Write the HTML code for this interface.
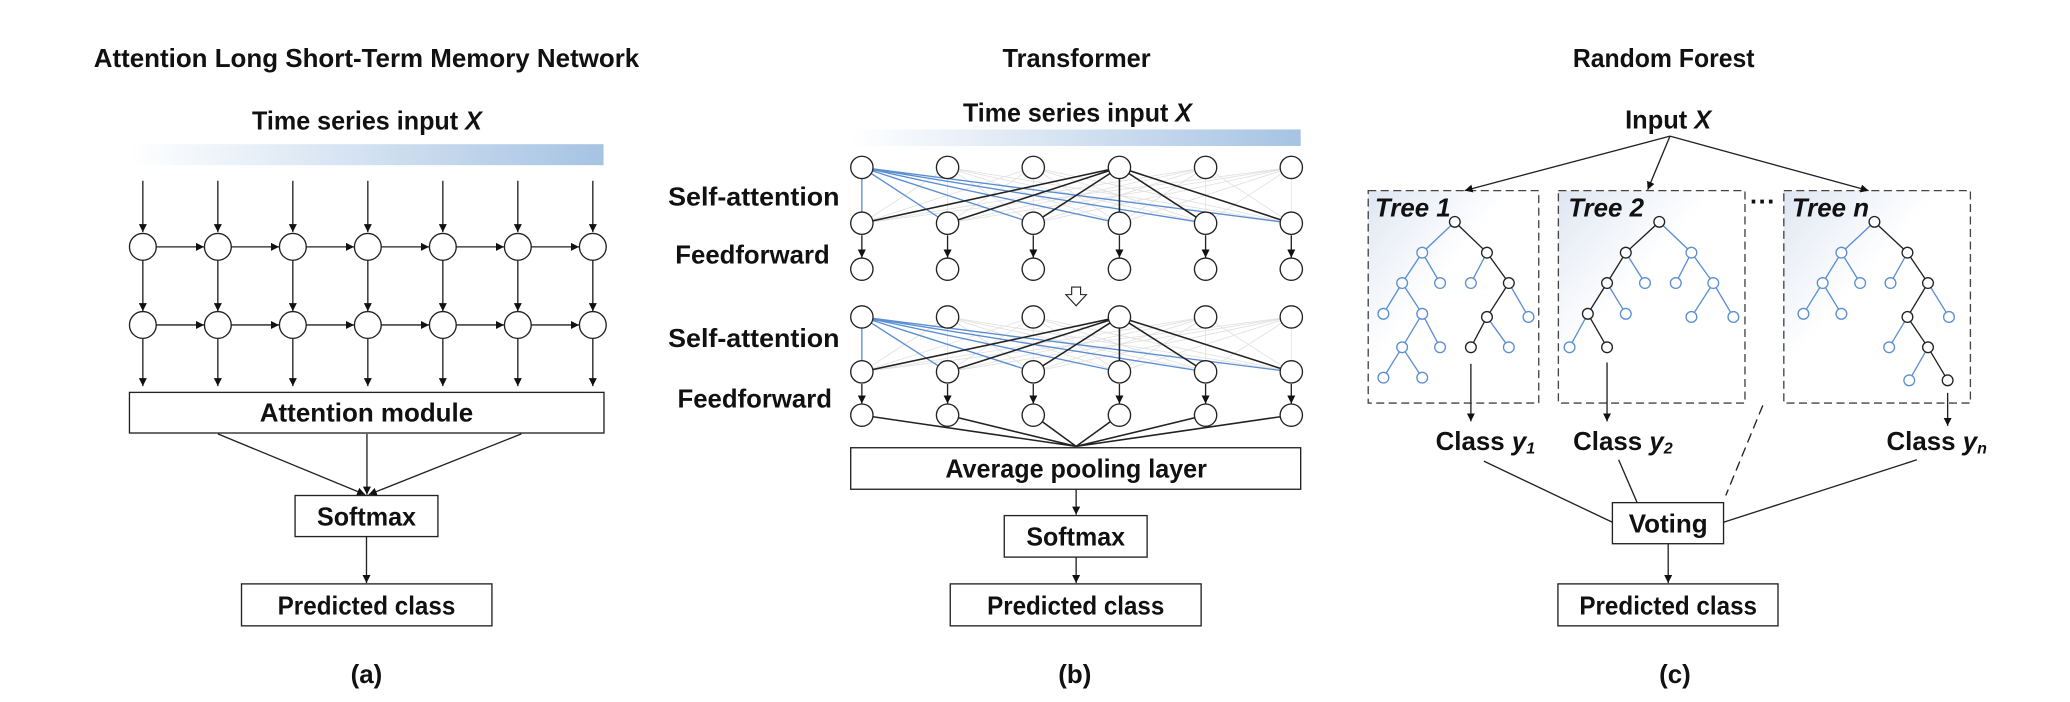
<!DOCTYPE html>
<html><head><meta charset="utf-8"><style>
html,body{margin:0;padding:0;background:#fff;}
svg{display:block;}
text{font-family:"Liberation Sans",sans-serif;font-weight:bold;fill:#111;}
</style></head><body>
<svg width="2070" height="702" viewBox="0 0 2070 702" xmlns="http://www.w3.org/2000/svg">
<defs>
<marker id="ah" viewBox="0 0 10 10" refX="10" refY="5" markerWidth="6" markerHeight="6" orient="auto" markerUnits="strokeWidth"><path d="M0,0 L10,5 L0,10 z" fill="#111"/></marker>
<linearGradient id="bar" x1="0" x2="1" y1="0" y2="0"><stop offset="0" stop-color="#fff"/><stop offset="1" stop-color="#a6c3e3"/></linearGradient>
<linearGradient id="tb" x1="0" y1="0" x2="0.7" y2="0.7"><stop offset="0" stop-color="#dfe6f2"/><stop offset="0.6" stop-color="#fff"/></linearGradient>
</defs>

<!-- Panel A -->
<g transform="scale(0.4464)" stroke="#222" stroke-width="3" fill="none">
<text x="821" y="150" font-size="58" text-anchor="middle" textLength="1222" lengthAdjust="spacingAndGlyphs" stroke="none">Attention Long Short-Term Memory Network</text>
<text x="822" y="290" font-size="58" text-anchor="middle" textLength="515" lengthAdjust="spacingAndGlyphs" stroke="none">Time series input <tspan font-style="italic">X</tspan></text>
<rect x="290" y="323" width="1062" height="47" fill="url(#bar)" stroke="none"/>
<g marker-end="url(#ah)">
<line x1="320" y1="405" x2="320" y2="520"/><line x1="488" y1="405" x2="488" y2="520"/><line x1="656" y1="405" x2="656" y2="520"/><line x1="824" y1="405" x2="824" y2="520"/><line x1="992" y1="405" x2="992" y2="520"/><line x1="1160" y1="405" x2="1160" y2="520"/><line x1="1328" y1="405" x2="1328" y2="520"/>
<line x1="320" y1="583" x2="320" y2="697"/><line x1="488" y1="583" x2="488" y2="697"/><line x1="656" y1="583" x2="656" y2="697"/><line x1="824" y1="583" x2="824" y2="697"/><line x1="992" y1="583" x2="992" y2="697"/><line x1="1160" y1="583" x2="1160" y2="697"/><line x1="1328" y1="583" x2="1328" y2="697"/>
<line x1="320" y1="758" x2="320" y2="865"/><line x1="488" y1="758" x2="488" y2="865"/><line x1="656" y1="758" x2="656" y2="865"/><line x1="824" y1="758" x2="824" y2="865"/><line x1="992" y1="758" x2="992" y2="865"/><line x1="1160" y1="758" x2="1160" y2="865"/><line x1="1328" y1="758" x2="1328" y2="865"/>
<line x1="350" y1="553" x2="457" y2="553"/><line x1="518" y1="553" x2="625" y2="553"/><line x1="686" y1="553" x2="793" y2="553"/><line x1="854" y1="553" x2="961" y2="553"/><line x1="1022" y1="553" x2="1129" y2="553"/><line x1="1190" y1="553" x2="1297" y2="553"/>
<line x1="350" y1="728" x2="457" y2="728"/><line x1="518" y1="728" x2="625" y2="728"/><line x1="686" y1="728" x2="793" y2="728"/><line x1="854" y1="728" x2="961" y2="728"/><line x1="1022" y1="728" x2="1129" y2="728"/><line x1="1190" y1="728" x2="1297" y2="728"/>
<line x1="488" y1="972" x2="818" y2="1108"/><line x1="822" y1="972" x2="822" y2="1108"/><line x1="1168" y1="972" x2="826" y2="1108"/>
<line x1="821" y1="1202" x2="821" y2="1306"/>
</g>
<g fill="#fff">
<circle cx="320" cy="553" r="30"/><circle cx="488" cy="553" r="30"/><circle cx="656" cy="553" r="30"/><circle cx="824" cy="553" r="30"/><circle cx="992" cy="553" r="30"/><circle cx="1160" cy="553" r="30"/><circle cx="1328" cy="553" r="30"/>
<circle cx="320" cy="728" r="30"/><circle cx="488" cy="728" r="30"/><circle cx="656" cy="728" r="30"/><circle cx="824" cy="728" r="30"/><circle cx="992" cy="728" r="30"/><circle cx="1160" cy="728" r="30"/><circle cx="1328" cy="728" r="30"/>
<rect x="290" y="879" width="1063" height="91"/>
<rect x="661" y="1110" width="320" height="92"/>
<rect x="541" y="1308" width="561" height="94"/>
</g>
<g stroke="none">
<text x="821" y="944" font-size="58" text-anchor="middle" textLength="478" lengthAdjust="spacingAndGlyphs">Attention module</text>
<text x="821" y="1177" font-size="58" text-anchor="middle" textLength="222" lengthAdjust="spacingAndGlyphs">Softmax</text>
<text x="821" y="1377" font-size="58" text-anchor="middle" textLength="398" lengthAdjust="spacingAndGlyphs">Predicted class</text>
<text x="821" y="1530" font-size="58" text-anchor="middle">(a)</text>
</g>
</g>

<!-- Panel B -->
<g transform="translate(690,0) scale(0.4464)" stroke="#222" stroke-width="3" fill="none">
<text x="866" y="150" font-size="58" text-anchor="middle" textLength="332" lengthAdjust="spacingAndGlyphs" stroke="none">Transformer</text>
<text x="868" y="272" font-size="58" text-anchor="middle" textLength="513" lengthAdjust="spacingAndGlyphs" stroke="none">Time series input <tspan font-style="italic">X</tspan></text>
<rect x="362" y="290" width="1006" height="37" fill="url(#bar)" stroke="none"/>
<g stroke="none" text-anchor="end" font-size="58">
<text x="335" y="460" textLength="384" lengthAdjust="spacingAndGlyphs">Self-attention</text>
<text x="313" y="590" textLength="346" lengthAdjust="spacingAndGlyphs">Feedforward</text>
<text x="335" y="777" textLength="384" lengthAdjust="spacingAndGlyphs">Self-attention</text>
<text x="318" y="913" textLength="346" lengthAdjust="spacingAndGlyphs">Feedforward</text>
</g>
<g stroke="#e2e2e2" stroke-width="2">
<path d="M577,375L385,500M577,375L769,500M577,375L962,500M577,375L1155,500M577,375L1347,500M577,375V500
M769,375L385,500M769,375L577,500M769,375L962,500M769,375L1155,500M769,375L1347,500M769,375V500
M1155,375L385,500M1155,375L577,500M1155,375L769,500M1155,375L962,500M1155,375L1347,500M1155,375V500
M1347,375L385,500M1347,375L577,500M1347,375L769,500M1347,375L962,500M1347,375L1155,500M1347,375V500"/>
<path d="M577,710L385,833M577,710L769,833M577,710L962,833M577,710L1155,833M577,710L1347,833M577,710V833
M769,710L385,833M769,710L577,833M769,710L962,833M769,710L1155,833M769,710L1347,833M769,710V833
M1155,710L385,833M1155,710L577,833M1155,710L769,833M1155,710L962,833M1155,710L1347,833M1155,710V833
M1347,710L385,833M1347,710L577,833M1347,710L769,833M1347,710L962,833M1347,710L1155,833M1347,710V833"/>
</g>
<g stroke="#5b8fd2" stroke-width="3">
<path d="M385,375V500M385,375L577,500M385,375L769,500M385,375L962,500M385,375L1155,500M385,375L1347,500"/>
<path d="M385,710V833M385,710L577,833M385,710L769,833M385,710L962,833M385,710L1155,833M385,710L1347,833"/>
</g>
<g stroke="#222" stroke-width="3.5">
<path d="M962,375L385,500M962,375L577,500M962,375L769,500M962,375V500M962,375L1155,500M962,375L1347,500"/>
<path d="M962,710L385,833M962,710L577,833M962,710L769,833M962,710V833M962,710L1155,833M962,710L1347,833"/>
<path d="M385,930L865,1000M577,930L865,1000M769,930L865,1000M962,930L865,1000M1155,930L865,1000M1347,930L865,1000"/>
</g>
<g marker-end="url(#ah)">
<line x1="385" y1="527" x2="385" y2="577"/><line x1="577" y1="527" x2="577" y2="577"/><line x1="769" y1="527" x2="769" y2="577"/><line x1="962" y1="527" x2="962" y2="577"/><line x1="1155" y1="527" x2="1155" y2="577"/><line x1="1347" y1="527" x2="1347" y2="577"/>
<line x1="385" y1="860" x2="385" y2="904"/><line x1="577" y1="860" x2="577" y2="904"/><line x1="769" y1="860" x2="769" y2="904"/><line x1="962" y1="860" x2="962" y2="904"/><line x1="1155" y1="860" x2="1155" y2="904"/><line x1="1347" y1="860" x2="1347" y2="904"/>
<line x1="865" y1="1096" x2="865" y2="1153"/><line x1="865" y1="1248" x2="865" y2="1306"/>
</g>
<path d="M855,643H875V660H888L865,685L842,660H855Z" fill="#fff" stroke-width="2.5"/>
<g fill="#fff">
<circle cx="385" cy="375" r="25"/><circle cx="577" cy="375" r="25"/><circle cx="769" cy="375" r="25"/><circle cx="962" cy="375" r="25"/><circle cx="1155" cy="375" r="25"/><circle cx="1347" cy="375" r="25"/>
<circle cx="385" cy="500" r="25"/><circle cx="577" cy="500" r="25"/><circle cx="769" cy="500" r="25"/><circle cx="962" cy="500" r="25"/><circle cx="1155" cy="500" r="25"/><circle cx="1347" cy="500" r="25"/>
<circle cx="385" cy="603" r="25"/><circle cx="577" cy="603" r="25"/><circle cx="769" cy="603" r="25"/><circle cx="962" cy="603" r="25"/><circle cx="1155" cy="603" r="25"/><circle cx="1347" cy="603" r="25"/>
<circle cx="385" cy="710" r="25"/><circle cx="577" cy="710" r="25"/><circle cx="769" cy="710" r="25"/><circle cx="962" cy="710" r="25"/><circle cx="1155" cy="710" r="25"/><circle cx="1347" cy="710" r="25"/>
<circle cx="385" cy="833" r="25"/><circle cx="577" cy="833" r="25"/><circle cx="769" cy="833" r="25"/><circle cx="962" cy="833" r="25"/><circle cx="1155" cy="833" r="25"/><circle cx="1347" cy="833" r="25"/>
<circle cx="385" cy="930" r="25"/><circle cx="577" cy="930" r="25"/><circle cx="769" cy="930" r="25"/><circle cx="962" cy="930" r="25"/><circle cx="1155" cy="930" r="25"/><circle cx="1347" cy="930" r="25"/>
<rect x="360" y="1003" width="1008" height="93"/>
<rect x="704" y="1155" width="320" height="93"/>
<rect x="583" y="1308" width="562" height="94"/>
</g>
<g stroke="none" font-size="58" text-anchor="middle">
<text x="865" y="1070" textLength="586" lengthAdjust="spacingAndGlyphs">Average pooling layer</text>
<text x="864" y="1222" textLength="221" lengthAdjust="spacingAndGlyphs">Softmax</text>
<text x="864" y="1377" textLength="397" lengthAdjust="spacingAndGlyphs">Predicted class</text>
<text x="862" y="1530">(b)</text>
</g>
</g>

<!-- Panel C -->
<g transform="translate(1370,0) scale(0.4464)" stroke="#222" stroke-width="3" fill="none">
<text x="658" y="150" font-size="58" text-anchor="middle" textLength="407" lengthAdjust="spacingAndGlyphs" stroke="none">Random Forest</text>
<text x="668" y="288" font-size="58" text-anchor="middle" textLength="193" lengthAdjust="spacingAndGlyphs" stroke="none">Input <tspan font-style="italic">X</tspan></text>
<g fill="url(#tb)" stroke="#444" stroke-dasharray="18,10">
<rect x="-4" y="427" width="382" height="476"/>
<rect x="422" y="427" width="418" height="476"/>
<rect x="927" y="427" width="418" height="476"/>
</g>
<g marker-end="url(#ah)">
<line x1="672" y1="305" x2="212" y2="427"/><line x1="672" y1="305" x2="622" y2="425"/><line x1="672" y1="305" x2="1117" y2="427"/>
</g>
<text x="880" y="470" font-size="58" text-anchor="middle" stroke="none">···</text>
<g stroke="none" font-size="58" font-style="italic">
<text x="11" y="485">Tree 1</text>
<text x="444" y="485">Tree 2</text>
<text x="945" y="485">Tree n</text>
</g>
<g stroke="#5b8fd2" stroke-width="3">
<path d="M190,497L117,566M117,566L72,634M117,566L157,634M262,566L226,634M311,634L355,710M72,634L30,703M72,634L117,703M117,703L72,778M117,703L157,778M262,710L311,778M72,778L30,846M72,778L117,846"/>
<path d="M648,497L720,566M573,566L616,634M720,566L685,634M720,566L769,634M531,634L573,703M769,634L720,710M769,634L814,710M488,703L447,778"/>
<path d="M1130,497L1056,566M1056,566L1014,634M1056,566L1098,634M1204,566L1166,634M1250,634L1297,710M1014,634L971,703M1014,634L1056,703M1204,710L1163,778M1250,778L1208,852"/>
</g>
<g stroke="#222" stroke-width="3">
<path d="M190,497L262,566L311,634L262,710L226,778"/>
<path d="M648,497L573,566L531,634L488,703L531,778"/>
<path d="M1130,497L1204,566L1250,634L1204,710L1250,778L1294,852"/>
</g>
<g fill="#fff" stroke="#5b8fd2" stroke-width="3">
<circle cx="117" cy="566" r="12"/><circle cx="72" cy="634" r="12"/><circle cx="157" cy="634" r="12"/><circle cx="226" cy="634" r="12"/><circle cx="30" cy="703" r="12"/><circle cx="117" cy="703" r="12"/><circle cx="355" cy="710" r="12"/><circle cx="72" cy="778" r="12"/><circle cx="157" cy="778" r="12"/><circle cx="311" cy="778" r="12"/><circle cx="30" cy="846" r="12"/><circle cx="117" cy="846" r="12"/>
<circle cx="720" cy="566" r="12"/><circle cx="616" cy="634" r="12"/><circle cx="685" cy="634" r="12"/><circle cx="769" cy="634" r="12"/><circle cx="573" cy="703" r="12"/><circle cx="720" cy="710" r="12"/><circle cx="814" cy="710" r="12"/><circle cx="447" cy="778" r="12"/>
<circle cx="1056" cy="566" r="12"/><circle cx="1014" cy="634" r="12"/><circle cx="1098" cy="634" r="12"/><circle cx="1166" cy="634" r="12"/><circle cx="971" cy="703" r="12"/><circle cx="1056" cy="703" r="12"/><circle cx="1297" cy="710" r="12"/><circle cx="1163" cy="778" r="12"/><circle cx="1208" cy="852" r="12"/>
</g>
<g fill="#fff" stroke="#222" stroke-width="3">
<circle cx="190" cy="497" r="12"/><circle cx="262" cy="566" r="12"/><circle cx="311" cy="634" r="12"/><circle cx="262" cy="710" r="12"/><circle cx="226" cy="778" r="12"/>
<circle cx="648" cy="497" r="12"/><circle cx="573" cy="566" r="12"/><circle cx="531" cy="634" r="12"/><circle cx="488" cy="703" r="12"/><circle cx="531" cy="778" r="12"/>
<circle cx="1130" cy="497" r="12"/><circle cx="1204" cy="566" r="12"/><circle cx="1250" cy="634" r="12"/><circle cx="1204" cy="710" r="12"/><circle cx="1250" cy="778" r="12"/><circle cx="1294" cy="852" r="12"/>
</g>
<g marker-end="url(#ah)">
<line x1="226" y1="815" x2="226" y2="944"/><line x1="531" y1="812" x2="531" y2="944"/><line x1="1294" y1="880" x2="1294" y2="954"/>
<line x1="668" y1="1218" x2="668" y2="1306"/>
</g>
<path d="M255,1033L543,1170M557,1030L598,1125M1225,1030L792,1170"/>
<path d="M880,908L797,1110" stroke-dasharray="22,12"/>
<g fill="#fff">
<rect x="543" y="1126" width="249" height="92"/>
<rect x="421" y="1308" width="493" height="94"/>
</g>
<g stroke="none" font-size="58">
<text x="147" y="1008">Class <tspan font-style="italic">y</tspan><tspan font-style="italic" font-size="36" dy="8">1</tspan></text>
<text x="455" y="1008">Class <tspan font-style="italic">y</tspan><tspan font-style="italic" font-size="36" dy="8">2</tspan></text>
<text x="1157" y="1008">Class <tspan font-style="italic">y</tspan><tspan font-style="italic" font-size="36" dy="8">n</tspan></text>
<text x="668" y="1193" text-anchor="middle" textLength="177" lengthAdjust="spacingAndGlyphs">Voting</text>
<text x="668" y="1377" text-anchor="middle" textLength="398" lengthAdjust="spacingAndGlyphs">Predicted class</text>
<text x="683" y="1530" text-anchor="middle">(c)</text>
</g>
</g>
</svg>
</body></html>
